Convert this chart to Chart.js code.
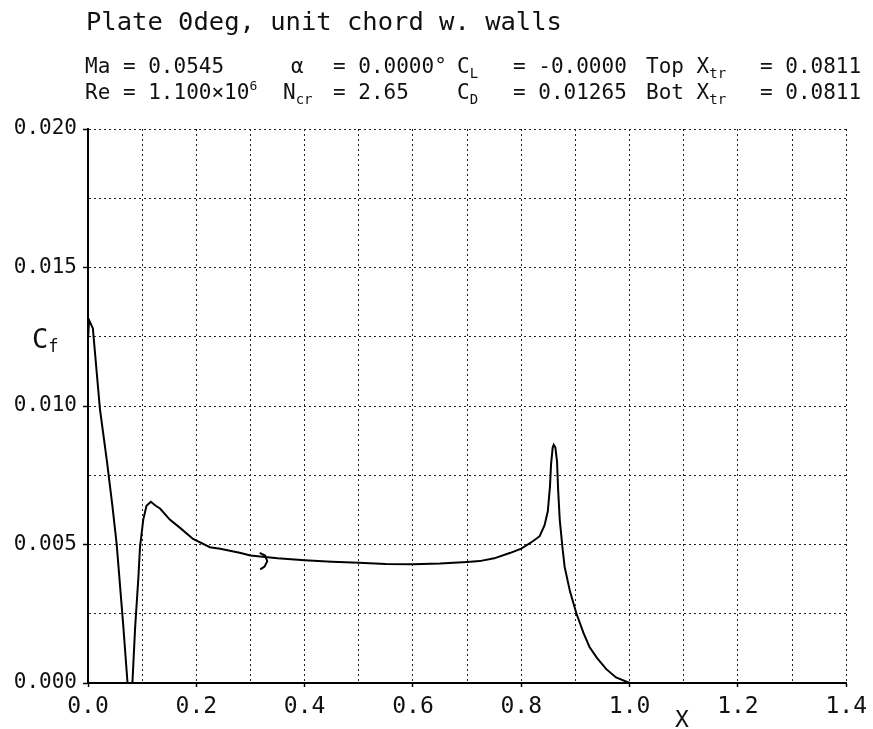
<!DOCTYPE html>
<html>
<head>
<meta charset="utf-8">
<title>Cf - Plate 0deg</title>
<script src="https://cdn.jsdelivr.net/npm/chart.js@4.4.1/dist/chart.umd.min.js"></script>
<style>
    body { margin: 0; background: #fff; }
    #wrap { position: relative; width: 873px; height: 729px; overflow: hidden; }
    #wrap canvas { position: absolute; left: 0; top: 0; }
    .txt {
        position: absolute;
        font-family: 'DejaVu Sans Mono', monospace;
        font-size: 21px;
        line-height: 1;
        color: #111;
        white-space: pre;
    }
    .txt sub { font-size: 14px; vertical-align: -5px; line-height: 0; }
    .txt sup { font-size: 13px; vertical-align: 9px; line-height: 0; }
</style>
</head>
<body>
<div id="wrap">
    <canvas id="cfChart" width="873" height="729"></canvas>

    <div class="txt" style="left:86px; top:9px; font-size:25.5px;">Plate 0deg, unit chord w. walls</div>

    <div class="txt" style="left:85px; top:56px;">Ma = 0.0545</div>
    <div class="txt" style="left:291px; top:56px;">&alpha;</div>
    <div class="txt" style="left:333px; top:56px;">= 0.0000&deg;</div>
    <div class="txt" style="left:457px; top:56px;">C<sub>L</sub></div>
    <div class="txt" style="left:513px; top:56px;">= -0.0000</div>
    <div class="txt" style="left:646px; top:56px;">Top X<sub>tr</sub></div>
    <div class="txt" style="left:760px; top:56px;">= 0.0811</div>

    <div class="txt" style="left:85px; top:82px;">Re = 1.100&times;10<sup>6</sup></div>
    <div class="txt" style="left:283px; top:82px;">N<sub>cr</sub></div>
    <div class="txt" style="left:333px; top:82px;">= 2.65</div>
    <div class="txt" style="left:457px; top:82px;">C<sub>D</sub></div>
    <div class="txt" style="left:513px; top:82px;">= 0.01265</div>
    <div class="txt" style="left:646px; top:82px;">Bot X<sub>tr</sub></div>
    <div class="txt" style="left:760px; top:82px;">= 0.0811</div>

    <div class="txt" style="left:32px; top:325px; font-size:27px;">C<sub style="font-size:17px;vertical-align:-4px;">f</sub></div>
    <div class="txt" style="left:675px; top:708px; font-size:23px;">X</div>
</div>

<script>
// skin friction along the chord (top and bottom surfaces coincide)
const cfX = [0.000, 0.002, 0.009, 0.022, 0.035, 0.045, 0.053, 0.065, 0.073,
             0.082, 0.087, 0.093, 0.096, 0.102, 0.108, 0.116, 0.125, 0.133,
             0.151, 0.170, 0.194, 0.225, 0.244, 0.280, 0.300, 0.350, 0.400,
             0.450, 0.500, 0.550, 0.600, 0.650, 0.700, 0.723, 0.750, 0.780,
             0.800, 0.820, 0.834, 0.843, 0.849, 0.853, 0.855, 0.858, 0.860,
             0.863, 0.866, 0.868, 0.871, 0.876, 0.880, 0.890, 0.902, 0.915,
             0.926, 0.940, 0.957, 0.975, 1.000];
const cfY = [0.0124, 0.0131, 0.0128, 0.0099, 0.0080, 0.0064, 0.0050, 0.0021, 0.0000,
             0.0000, 0.0020, 0.0038, 0.0049, 0.0059, 0.0064, 0.00654, 0.0064, 0.0063,
             0.0059, 0.0056, 0.0052, 0.0049, 0.00485, 0.0047, 0.0046, 0.0045, 0.00443,
             0.00438, 0.00434, 0.0043, 0.00429, 0.00431, 0.00437, 0.0044, 0.0045, 0.0047,
             0.00485, 0.0051, 0.0053, 0.0057, 0.0062, 0.0071, 0.0079, 0.0085, 0.0086,
             0.0085, 0.0080, 0.0070, 0.0059, 0.0049, 0.0042, 0.0033, 0.0025, 0.0018,
             0.0013, 0.0009, 0.0005, 0.0002, 0.0000];

// small pen hook near x = 0.32
const hookX = [0.317, 0.327, 0.331, 0.326, 0.318];
const hookY = [0.0047, 0.0046, 0.0044, 0.0042, 0.0041];

const xTickLabels = ['0.0', '0.2', '0.4', '0.6', '0.8', '1.0', '1.2', '1.4'];
const yTickLabels = ['0.000', '0.005', '0.010', '0.015', '0.020'];

document.addEventListener('DOMContentLoaded', function() {
    const ctx = document.getElementById('cfChart').getContext('2d');

    const toPoints = (xs, ys) => xs.map((x, i) => ({ x: x, y: ys[i] }));
    const gridColor = '#222';
    const font = 'DejaVu Sans Mono';
    const tickColor = c => c.index % 2 === 0 ? '#000' : 'rgba(0,0,0,0)';

    new Chart(ctx, {
        type: 'scatter',
        data: {
            datasets: [{
                label: 'Cf',
                data: toPoints(cfX, cfY),
                showLine: true,
                borderColor: '#000',
                borderWidth: 2,
                pointRadius: 0,
                tension: 0
            }, {
                label: 'hook',
                data: toPoints(hookX, hookY),
                showLine: true,
                borderColor: '#000',
                borderWidth: 2,
                pointRadius: 0,
                tension: 0
            }]
        },
        options: {
            responsive: false,
            animation: false,
            layout: {
                padding: { top: 129, right: 26, left: 0, bottom: 0 }
            },
            plugins: {
                legend: { display: false },
                tooltip: { enabled: false }
            },
            scales: {
                x: {
                    type: 'linear',
                    min: 0,
                    max: 1.4,
                    afterFit: function(scale) { scale.height = 46; },
                    border: { color: '#000', width: 2, dash: [2, 3] },
                    grid: {
                        color: gridColor,
                        lineWidth: 1,
                        tickLength: 4,
                        tickColor: tickColor,
                        tickWidth: 1.5,
                        tickBorderDash: []
                    },
                    ticks: {
                        stepSize: 0.1,
                        autoSkip: false,
                        maxRotation: 0,
                        padding: 6,
                        color: '#111',
                        font: { family: font, size: 23 },
                        callback: function(value, index) {
                            return index % 2 === 0 ? xTickLabels[index / 2] : '';
                        }
                    }
                },
                y: {
                    type: 'linear',
                    min: 0,
                    max: 0.02,
                    afterFit: function(scale) { scale.width = 88; },
                    border: { color: '#000', width: 2, dash: [2, 3] },
                    grid: {
                        color: gridColor,
                        lineWidth: 1,
                        tickLength: 5,
                        tickColor: tickColor,
                        tickWidth: 1.5,
                        tickBorderDash: []
                    },
                    ticks: {
                        stepSize: 0.0025,
                        autoSkip: false,
                        padding: 6,
                        color: '#111',
                        font: { family: font, size: 21 },
                        callback: function(value, index) {
                            return index % 2 === 0 ? yTickLabels[index / 2] : '';
                        }
                    }
                }
            }
        }
    });
});
</script>
</body>
</html>
